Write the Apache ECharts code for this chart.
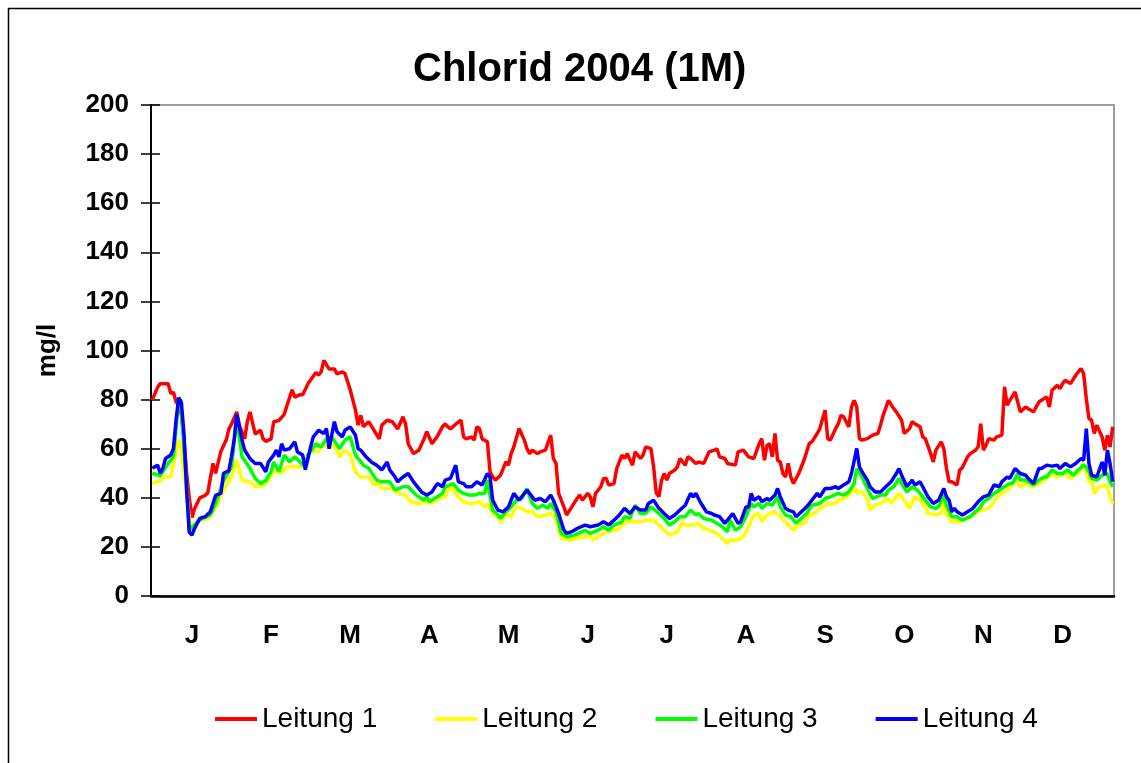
<!DOCTYPE html>
<html>
<head>
<meta charset="utf-8">
<title>Chlorid 2004 (1M)</title>
<script src="https://cdn.jsdelivr.net/npm/echarts@6/dist/echarts.min.js"></script>
<style>
  html, body { margin: 0; padding: 0; background: #ffffff; }
  #chart { width: 1141px; height: 763px; }
</style>
</head>
<body>
<div id="chart"></div>
<script>
const monthLabels = ['J', 'F', 'M', 'A', 'M', 'J', 'J', 'A', 'S', 'O', 'N', 'D']
const dayCount = 365
const yTicks = { min: 0, max: 200, step: 20 }

const leitung1 = [
  [0,80],[2,85],[3,86.5],[6,86.5],[7,82.5],[8,83],[9,79],[10,78],[11,74],[12,64],[13,50],[14,40],[15,32],[16,35.5],[18,40],[20,41],[21,42],[23,54],[24,50],[26,59],[28,63.5],[29,68],[30,70],[32,75],[33,69.5],[35,64],[36,71],[37,75],[39,66],[41,67.5],[42,64],[43,63],[45,64],[46,71],[48,71.5],[50,74],[51,77.5],[53,84],[54,81],[56,82],
  [57,82],[59,86.5],[60,88],[62,91],[63,90],[64,91.3],[65,96],[67,92.5],[69,92.5],[70,90.5],[72,91.3],[73,90.6],[75,84],[77,75.7],[78,69.6],[79,73.6],[80,69],[82,71],[84,67.5],[86,64],[87,69.6],[89,71.6],[91,71],[93,68],[95,73],[96,70],[97,62],[99,58],[101,59.4],[103,64],[104,67],[106,62],[108,65],[110,69],[111,70],[113,68],[115,70],[117,71.6],
  [118,64.8],[119,64],[121,64.8],[122,63.5],[123,68.9],[124,68.2],[125,64],[127,62.8],[128,50.6],[129,48.5],[130,47.2],[132,49.2],[134,54.6],[135,53.3],[136,58],[137,60.7],[139,68.2],[141,63.5],[142,60],[143,58],[144,59.4],[146,58],[147,58.7],[149,59.4],[151,65.5],[152,56],[153,54],[154,41.8],[156,36.3],[157,33],[159,36.3],[161,39.7],[162,41.1],[163,39],[165,41.8],[166,40.4],[167,36.3],[168,41.8],[170,44.5],[171,47.9],[172,47.9],[173,45.2],[175,45.8],[176,51.9],[178,57.4],
  [179,56],[180,58],[182,53.3],[183,58.7],[185,56],[186,57.4],[187,60.7],[189,60],[190,52.6],[191,42],[192,40.4],[193,47],[194,49.9],[195,47.2],[196,49.9],[198,51.3],[199,52.6],[200,56],[202,53.3],[203,56.7],[204,56],[206,54],[207,54.6],[209,54],[211,58.7],[213,59.4],[214,60],[215,56.7],[217,56],[218,54],[221,53.3],[222,58.7],[224,59.4],[226,56.7],[228,56],[230,62],[231,64.1],[232,55.3],[233,61.4],[234,62],[235,56.7],[236,66.2],[237,55.3],[238,54.6],[239,49.9],[240,48.5],[241,54],
  [242,48.5],[243,45.8],[245,49.9],[247,55.3],[249,62.1],[250,62.8],[252,66.2],[253,68.2],[255,75.7],[256,64.1],[257,63.5],[259,68.2],[260,70.2],[261,73.6],[262,73],[264,68.9],[265,77],[266,79.7],[267,77],[268,64.1],[269,63.5],[271,64.1],[273,65.5],[275,66.2],[276,69.6],[277,73.6],[279,79.7],[281,76.3],[282,75],[284,71.6],[285,66.2],[287,68.2],[288,71],[289,70.2],[291,68.9],[292,64.8],[293,64.1],[295,58],[296,54.6],[297,59.4],[299,62.8],[300,60],[301,52],[302,46.5],
  [303,46.5],[305,45.2],[306,51.3],[307,52.2],[309,56.7],[310,58],[312,59.4],[313,60.7],[314,70.2],[315,59.4],[316,61.4],[317,64.1],[319,63.5],[320,64.8],[322,65.5],[323,85.2],[324,77.7],[325,79.7],[327,83.1],[328,79],[329,75],[331,77],[332,76.3],[334,75],[336,79],[337,79.7],[339,81.1],[340,77],[341,83.8],[343,85.8],[344,84.5],[345,86.5],[346,87.9],[348,86.5],[350,89.9],[351,91.3],[352,92.6],[353,90.6],[354,80.4],[355,72.3],[356,71.6],[357,66.2],[358,69.6],[360,64.8],[361,59.4],[362,65.5],[363,60.7],[364,68.9]
]

const leitung2 = [
  [0,45.8],[3,47],[5,48.5],[7,48.5],[10,63.5],[11,59.4],[14,32],[15,26],[17,31],[21,31.6],[24,36],[27,43],[30,48.5],[32,55.3],[34,47],[37,46.5],[39,44.5],[42,45],[44,47],[46,51],[49,50],[51,52.6],[54,52.6],[56,52.6],
  [58,54],[60,59.4],[63,58.7],[64,61.4],[67,60.7],[69,61.4],[71,56.7],[73,59.4],[75,57.4],[77,50.6],[79,48.5],[82,48.5],[84,45.2],[86,45.8],[87,43.8],[91,43.8],[93,41.8],[96,41.1],[98,38.4],[101,37.7],[104,38.4],[106,37.7],[108,39.7],[111,40.4],[113,44.5],[116,40.4],[118,38.4],
  [120,37.7],[122,37.7],[124,38.4],[126,36.3],[127,37.7],[129,33.6],[131,32.3],[132,30.2],[134,33],[136,32.3],[138,36.3],[140,35.7],[142,34.3],[144,34.3],[146,32.3],[149,33],[151,33.6],[153,31.6],[155,23.5],[158,22.8],[161,23.5],[164,24.1],[166,24.8],[167,22.8],[169,24.1],[171,25.5],[173,26.2],[176,26.8],[178,28.9],[180,30.2],
  [181,30.2],[183,30.2],[185,30.2],[187,30.9],[190,30.9],[192,28.9],[194,26.8],[196,24.8],[199,26.2],[201,30.2],[202,28.9],[205,28.9],[207,29.6],[209,27.5],[211,26.8],[214,25.5],[216,23.5],[218,21.4],[219,22.8],[222,22.8],[224,24.1],[226,28.2],[228,33],[230,33.6],[231,30.2],[233,33],[236,34.3],[238,32.3],[240,30.2],
  [241,28.9],[243,26.8],[245,28.9],[247,29.6],[249,33],[251,33.6],[253,35.7],[255,37],[257,37.7],[259,37.7],[260,39],[262,39.7],[264,41.1],[266,44.5],[267,41.8],[269,42.4],[271,39.7],[272,35],[274,37],[276,37.7],[279,39.7],[280,37.7],[282,40.4],[283,41.8],[285,39],[287,35.7],[289,40.4],[291,39],[293,36.3],[294,33.6],[297,33],[299,33.6],[300,38.4],
  [301,33.5],[303,30.2],[306,30.2],[308,31.6],[311,33],[314,35],[317,35.7],[319,38.4],[321,41.1],[323,42.4],[325,43.8],[327,47.9],[329,44.5],[331,45.8],[334,44.5],[336,45.8],[337,46.5],[339,47.9],[341,49.9],[343,48.5],[344,49.2],[346,49.9],[348,47.9],[351,49.9],[353,54],[355,46.5],[356,47.2],[357,41.8],[359,44.5],[361,45.2],[362,44.5],[363,40.4],[364,37.7]
]

const leitung3 = [
  [0,50],[3,49],[6,54],[8,56.7],[10,80],[11,76],[13,45],[14,27],[18,31],[22,33],[24,37.7],[27,47],[30,52.6],[32,72],[34,56.7],[37,52],[39,47.9],[41,45.8],[43,47],[45,50.6],[46,54.6],[48,50.6],[50,57.4],[52,54.6],[54,56.7],[56,54.6],
  [58,52.6],[59,57.4],[62,62],[64,60.7],[66,64],[68,64.8],[71,60],[73,63.5],[75,64.8],[77,57.4],[80,53.3],[82,52],[85,47.2],[87,46.5],[90,46.5],[92,43.1],[95,44.5],[97,44.5],[100,41.1],[103,39],[104,40.4],[105,38.4],[108,40.4],[110,41.8],[111,44.5],[114,45.8],[116,43.1],[118,41.8],
  [120,41.1],[122,41.1],[124,41.8],[126,41.8],[127,47.2],[129,35],[131,33],[132,31.6],[134,34.3],[136,36.3],[138,39],[140,39.7],[142,43.8],[144,37.7],[146,35.7],[148,37],[150,35.7],[151,37.7],[153,34.3],[155,25.5],[157,24.1],[160,24.8],[163,26.2],[164,26.8],[166,25.5],[169,26.8],[171,28.2],[173,26.8],[175,28.9],[178,30.2],[179,32.3],
  [181,31.6],[183,37],[185,33.6],[187,33.6],[189,36.3],[192,33.6],[194,31.6],[196,28.9],[198,30.2],[200,32.3],[202,32.3],[204,35],[206,33],[207,33.6],[209,31.6],[212,30.9],[214,29.6],[216,28.2],[218,26.2],[219,30.9],[221,26.8],[223,28.2],[225,32.3],[227,37.7],[228,36.3],[230,37.7],[231,35.7],[233,37.7],[235,37],[237,40.4],[238,36.3],[240,33],
  [242,32.3],[244,29.6],[246,31.6],[248,33.6],[250,37],[253,37.7],[255,39.7],[257,40.4],[260,41.8],[262,41.1],[264,42.4],[266,45.8],[267,51.9],[269,48.5],[271,43.8],[273,39.7],[276,41.1],[278,41.1],[279,43.1],[281,44.5],[283,47.9],[284,45.8],[286,42.4],[288,44.5],[290,43.1],[292,40.4],[295,36.3],[297,35.7],[298,36.3],[300,41],
  [301,37],[303,32.3],[305,32.3],[307,30.9],[310,32.3],[312,34.3],[314,36.3],[315,38.4],[317,39.7],[319,41.8],[321,43.1],[323,44.5],[325,45.8],[326,45.8],[328,49.9],[329,47.2],[331,47.2],[334,45.2],[336,47.2],[338,48.5],[339,48.5],[341,51.3],[343,49.9],[345,49.9],[347,51.3],[349,49.2],[351,51.3],[353,53.3],[354,52.6],[355,50.6],[356,47.9],[358,47.2],[360,49.2],[362,49.9],[363,46.5],[364,44.5]
]

const leitung4 = [
  [0,52],[2,53.3],[3,50],[4,52],[5,56],[7,57.4],[8,60],[9,71.6],[10,80.8],[11,79],[12,66],[13,43],[14,26],[15,24.8],[16,27.5],[18,31.6],[20,32.3],[22,34.3],[23,37.7],[24,41],[26,41.8],[27,50],[29,51],[30,56.7],[31,63.5],[32,74],[34,63.5],[35,59.4],[37,56],[39,54],[41,54],[43,50.6],[44,54.6],[46,57.4],[47,59.4],[48,56.7],[49,62],[50,59.4],[52,60],[54,62.8],[55,58.7],
  [57,57.4],[58,51.5],[60,60.7],[61,64.8],[63,67.5],[65,66.2],[66,68.2],[67,60],[69,71],[70,66.9],[72,64.8],[73,67.5],[75,68.9],[77,65.5],[78,60],[79,59.4],[81,56.7],[83,54.6],[85,53.3],[87,51.3],[89,54.6],[90,51.3],[92,48.5],[93,46.5],[95,48.5],[97,49.9],[99,46.5],[102,42.4],[104,41.1],[106,42.4],[108,45.8],[110,44.5],[111,47.2],[113,47.9],[115,53.3],[116,46.5],[118,45.8],
  [119,44.5],[121,44.5],[123,46.5],[125,45.2],[127,49.9],[128,48.5],[129,39],[131,35],[133,34.3],[135,36.3],[137,41.8],[139,39],[140,40.4],[142,43.1],[144,40.4],[145,39],[147,39.7],[149,38.4],[151,41.1],[152,39],[154,33.6],[156,26.8],[157,25.5],[159,26.2],[161,27.5],[164,28.9],[166,28.2],[169,28.9],[171,30.2],[173,28.9],[175,30.9],[177,33],[179,35.7],
  [181,33.6],[183,36.3],[185,35],[187,35],[188,37.7],[190,39],[192,35.7],[194,33.6],[196,31.6],[198,33],[200,35],[202,37],[204,41.8],[205,40.4],[206,41.8],[208,37.7],[210,34.3],[212,33.6],[213,33],[215,32.3],[217,29.6],[218,30.9],[220,33.6],[222,29.6],[223,30.2],[225,36.3],[226,36.3],[227,41.8],[228,39],[230,40.4],[231,38.4],[233,39.7],[234,39],[236,41.1],[237,43.8],[238,40.4],[240,35.7],
  [241,35],[243,34.3],[244,32.3],[246,34.3],[248,36.3],[250,39],[252,41.8],[253,40.4],[255,43.8],[257,43.8],[259,44.5],[260,43.8],[262,45.2],[264,46.5],[265,49.9],[267,60.1],[268,52.6],[269,50.6],[271,47.2],[272,44.5],[274,42.4],[276,42.4],[278,44.5],[280,46.5],[282,49.9],[283,51.9],[284,49.2],[286,44.5],[288,47.2],[289,45.2],[291,46.5],[292,44.5],[294,40.4],[296,37.7],[298,39],[300,43.8],
  [301,40.4],[302,39],[303,34.3],[304,35.7],[305,34.3],[307,33],[309,34.3],[311,35.7],[313,38.4],[315,40.4],[317,41.1],[318,43.1],[319,45.2],[321,44.5],[322,46.5],[324,48.5],[325,47.9],[327,51.9],[329,49.9],[331,49.2],[332,47.9],[334,45.8],[336,51.9],[337,51.9],[339,53.3],[341,52.9],[343,53.3],[344,51.9],[346,54],[348,52.6],[350,54],[352,56],[353,55.3],[354,68.2],[355,54],[356,49.2],[358,48.5],[360,54.6],[361,49.2],[362,59.4],[363,54],[364,46.5]
]

const seriesNames = ['Leitung 1', 'Leitung 2', 'Leitung 3', 'Leitung 4']
const seriesColors = ['#FF0000', '#FFFF00', '#00FF00', '#0000FF']
const seriesData = [leitung1, leitung2, leitung3, leitung4]

const days = []
for (let i = 0; i < dayCount; i++) days.push(String(i))

const boldFont = 'Liberation Sans, Arial, sans-serif'

const chart = echarts.init(document.getElementById('chart'), null, { renderer: 'canvas' })

chart.setOption({
  backgroundColor: '#ffffff',
  animation: false,
  title: {
    text: 'Chlorid 2004 (1M)',
    left: 408,
    top: 45,
    textStyle: { fontFamily: boldFont, fontSize: 40, fontWeight: 'bold', color: '#000000' }
  },
  legend: {
    data: seriesNames,
    left: 215,
    top: 705,
    padding: 0,
    icon: 'rect',
    itemWidth: 42,
    itemHeight: 4,
    itemGap: 58,
    textStyle: { fontFamily: boldFont, fontSize: 28, color: '#000000' }
  },
  graphic: [{
    type: 'rect',
    shape: { x: 8.5, y: 8.5, width: 1200, height: 800 },
    style: { fill: 'none', stroke: '#000000', lineWidth: 1.5 },
    silent: true
  }],
  grid: {
    left: 151,
    top: 105,
    right: 27,
    bottom: 167,
    show: true,
    borderColor: '#808080',
    borderWidth: 1.5,
    backgroundColor: '#ffffff'
  },
  xAxis: {
    type: 'category',
    data: days,
    boundaryGap: true,
    axisLine: { lineStyle: { color: '#000000', width: 2.5 } },
    axisTick: {
      length: 9,
      lineStyle: { color: '#000000', width: 1.5 },
      interval: (i) => i % 30 === 0
    },
    axisLabel: {
      interval: (i) => i % 30 === 15,
      formatter: (v, i) => monthLabels[Math.floor(Number(v) / 30)] || '',
      margin: 27,
      fontFamily: boldFont,
      fontSize: 26,
      fontWeight: 'bold',
      color: '#000000'
    },
    splitLine: { show: false }
  },
  yAxis: [{
    type: 'value',
    min: yTicks.min,
    max: yTicks.max,
    interval: yTicks.step,
    name: 'mg/l',
    nameLocation: 'middle',
    nameGap: 90,
    nameRotate: 90,
    nameTextStyle: { fontFamily: boldFont, fontSize: 26, fontWeight: 'bold', color: '#000000' },
    axisLine: { show: true, lineStyle: { color: '#000000', width: 2 } },
    axisTick: { show: true, length: 10, lineStyle: { color: '#000000', width: 1.5 } },
    axisLabel: { margin: 22, fontFamily: boldFont, fontSize: 26, fontWeight: 'bold', color: '#000000' },
    splitLine: { show: false }
  }, {
    type: 'value',
    position: 'left',
    min: yTicks.min,
    max: yTicks.max,
    interval: yTicks.step,
    axisLine: { show: false },
    axisTick: { show: true, inside: true, length: 9, lineStyle: { color: '#000000', width: 1.5 } },
    axisLabel: { show: false },
    splitLine: { show: false }
  }],
  series: seriesData.map((d, k) => ({
    name: seriesNames[k],
    type: 'line',
    data: d,
    symbol: 'none',
    color: seriesColors[k],
    lineStyle: { width: 3.5, color: seriesColors[k] },
    z: 2 + k
  }))
})
</script>
</body>
</html>
